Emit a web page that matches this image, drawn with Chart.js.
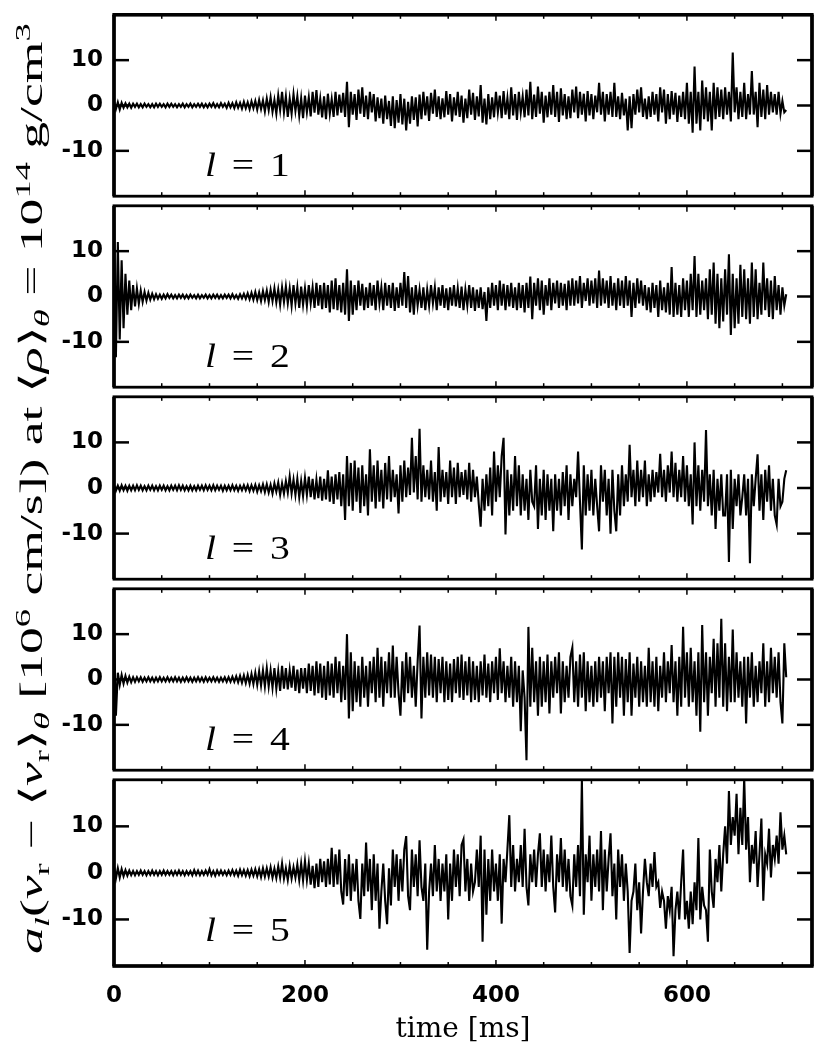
<!DOCTYPE html>
<html><head><meta charset="utf-8">
<script src="https://cdn.jsdelivr.net/npm/chart.js@4.4.1/dist/chart.umd.min.js"></script>
<style>
html,body{margin:0;padding:0;background:#fff;}
#fig{position:relative;width:830px;height:1053px;overflow:hidden;background:#fff;}
#fig canvas{position:absolute;left:0;}
.lab{position:absolute;left:205px;font-family:'Liberation Serif',serif;font-size:33px;color:#000;white-space:nowrap;line-height:1;transform-origin:0 50%;transform:translateY(-50%) scaleX(1.2);}
.lab i{font-style:italic;}
.lab .eq{margin:0 0.4em;}
#ytitle{position:absolute;left:0;top:0;transform-origin:0 0;white-space:nowrap;font-family:'Liberation Serif',serif;font-size:32px;line-height:1;color:#000;}
#ytitle sub,#ytitle sup{font-size:0.68em;line-height:0;}
#ytitle i{font-style:italic;}
</style></head>
<body><div id="fig"></div>
<script>
// ---- sampling and axes ----
const DT = 2;                       // sampling step of the read-off values, ms
const X_MIN = 0, X_MAX = 731;
const Y_MIN = -20, Y_MAX = 20;
const yTicks = [-10, 0, 10];
const xTickLabels = [0, 200, 400, 600];
const xMinorTicks = [50, 100, 150, 200, 250, 300, 350, 400, 450, 500, 550, 600, 650, 700];
const modes = [1, 2, 3, 4, 5];
const xTitle = 'time [ms]';

// ---- series values (every 2 ms from 0 to 704 ms; one row = 20 ms) ----
const l1 = [
 0.9,-0.8,0.7,-0.9,0.6,-0.5,0.5,-0.4,0.4,-0.5,
 0.4,-0.3,0.4,-0.4,0.3,-0.4,0.4,-0.3,0.3,-0.4,
 0.3,-0.4,0.4,-0.3,0.4,-0.3,0.3,-0.4,0.4,-0.3,
 0.4,-0.3,0.3,-0.4,0.3,-0.3,0.4,-0.4,0.3,-0.3,
 0.4,-0.4,0.3,-0.3,0.4,-0.3,0.4,-0.4,0.3,-0.4,
 0.4,-0.3,0.5,-0.4,0.3,-0.4,0.5,-0.3,0.4,-0.5,
 0.6,-0.4,0.5,-0.6,0.7,-0.5,0.6,-0.7,0.8,-0.6,
 0.7,-0.8,0.9,-0.6,1.0,-0.9,1.2,-0.8,1.1,-1.3,
 1.5,-1.0,1.8,-1.4,1.2,-1.8,2.2,-1.0,3.0,-1.5,
 2.0,-2.5,1.5,-1.8,2.5,-1.2,2.0,-2.2,1.6,-2.8,
 2.2,-1.5,1.8,-2.4,3.0,-1.6,3.4,-2.0,1.5,-2.6,
 2.0,-3.0,2.6,-1.8,1.4,-2.5,3.0,-2.2,2.4,-1.6,
 2.8,-2.5,5.2,-4.8,3.0,-2.0,2.5,-3.2,3.5,-1.8,
 4.0,-2.5,2.2,-3.0,3.0,-1.5,2.5,-3.5,1.8,-2.8,
 1.5,-4.0,2.2,-3.0,1.0,-4.5,2.0,-5.0,1.2,-3.8,
 2.5,-4.2,1.5,-5.5,0.8,-4.0,2.0,-3.2,1.8,-4.6,
 2.4,-3.0,3.0,-2.2,2.0,-3.4,2.8,-1.8,3.5,-2.5,
 2.0,-3.0,1.6,-2.6,3.2,-2.0,2.5,-3.5,1.8,-2.2,
 3.0,-2.5,2.2,-3.8,1.5,-2.8,3.5,-2.0,2.8,-3.2,
 2.0,-2.4,4.5,-3.8,1.5,-4.2,2.5,-3.0,1.8,-2.6,
 3.0,-1.5,2.2,-2.8,3.2,-2.0,1.6,-3.0,4.0,-2.2,
 2.5,-3.2,3.0,-1.5,2.0,-2.6,3.5,-2.2,5.2,-3.0,
 2.4,-2.5,4.2,-1.8,3.0,-3.8,2.2,-2.6,3.0,-2.0,
 4.5,-2.5,3.0,-3.6,3.8,-2.2,2.5,-3.0,2.0,-2.8,
 3.5,-1.5,4.2,-2.8,3.0,-2.0,2.6,-3.5,3.2,-2.2,
 2.5,-3.0,2.2,-1.5,5.0,-2.0,3.0,-3.5,2.5,-2.0,
 3.0,-2.5,5.0,-2.5,2.0,-3.0,2.8,-2.2,1.5,-5.5,
 2.0,-5.0,2.5,-2.0,3.5,-1.5,4.0,-2.5,1.5,-3.0,
 2.0,-2.5,3.0,-2.0,2.5,-3.5,4.0,-1.5,3.5,-4.0,
 2.5,-3.0,3.2,-2.0,2.8,-3.6,2.2,-2.5,3.0,-3.0,
 5.0,-4.0,3.0,-6.0,8.6,-4.0,3.0,-5.5,5.5,-3.0,
 4.0,-3.5,3.0,-5.5,5.0,-3.0,4.0,-2.5,3.5,-3.0,
 4.0,-2.0,3.0,-3.5,11.7,-1.5,4.0,-3.0,3.0,-2.5,
 5.0,-3.0,2.5,-2.0,7.6,-2.0,3.0,-4.8,5.0,-2.5,
 3.5,-3.0,4.5,-2.0,3.0,-1.5,2.5,-2.0,3.0,-1.8,
 1.0,-1.5,-1.0];

const l2 = [
 18.7,-13.4,12.0,-9.5,8.0,-7.0,5.0,-4.0,3.5,-3.0,
 2.5,-2.2,1.8,-1.6,1.3,-1.2,1.0,-0.9,0.8,-0.7,
 0.6,-0.6,0.5,-0.5,0.4,-0.5,0.4,-0.4,0.5,-0.3,
 0.4,-0.4,0.3,-0.4,0.4,-0.3,0.4,-0.4,0.3,-0.4,
 0.4,-0.3,0.3,-0.4,0.4,-0.4,0.3,-0.3,0.4,-0.4,
 0.3,-0.4,0.4,-0.3,0.4,-0.4,0.3,-0.4,0.4,-0.3,
 0.4,-0.4,0.5,-0.4,0.3,-0.5,0.5,-0.4,0.6,-0.5,
 0.7,-0.6,0.8,-0.7,1.0,-0.8,0.9,-1.0,1.2,-0.8,
 1.3,-1.2,1.5,-1.0,1.8,-1.3,1.5,-1.8,2.0,-1.2,
 2.2,-1.5,1.8,-2.0,2.5,-1.5,2.0,-2.5,2.2,-1.8,
 1.8,-2.0,2.5,-1.5,2.0,-2.5,3.0,-2.0,2.5,-2.8,
 3.0,-2.5,2.5,-3.5,3.5,-2.8,4.0,-3.0,2.5,-3.5,
 3.0,-4.0,6.0,-5.4,3.5,-4.0,2.5,-3.0,3.5,-2.0,
 2.8,-3.0,2.0,-2.5,3.0,-2.0,2.5,-3.0,3.5,-1.5,
 2.0,-3.0,3.0,-2.0,2.5,-2.5,3.0,-3.2,2.0,-2.5,
 3.0,-2.0,5.4,-2.5,4.5,-3.5,2.0,-4.0,2.5,-2.0,
 1.5,-2.5,2.0,-3.0,1.5,-2.0,2.5,-1.5,2.0,-3.0,
 2.0,-2.0,2.5,-2.5,1.8,-3.0,2.0,-2.0,2.5,-2.2,
 1.8,-2.5,2.2,-3.0,1.5,-2.0,2.5,-2.5,2.0,-3.2,
 1.5,-2.5,2.0,-2.8,1.0,-5.4,2.0,-2.5,3.0,-2.0,
 2.5,-3.0,3.5,-2.0,2.8,-3.0,2.5,-2.2,3.0,-2.5,
 2.0,-3.0,3.0,-2.5,2.5,-3.5,3.0,-2.5,4.4,-5.0,
 3.0,-2.0,4.0,-3.0,3.5,-4.0,2.5,-2.0,4.0,-3.0,
 3.0,-1.5,3.5,-2.5,3.0,-2.0,2.8,-3.0,3.5,-2.0,
 4.0,-2.0,3.5,-1.5,4.5,-2.5,3.0,-1.0,4.0,-2.0,
 3.5,-1.5,4.0,-2.5,5.7,-2.0,4.0,-1.5,3.5,-2.5,
 4.5,-2.0,3.0,-3.0,4.0,-2.0,3.5,-2.5,4.5,-2.0,
 3.5,-4.5,3.0,-2.5,4.0,-1.5,3.5,-2.0,2.5,-3.0,
 2.0,-3.5,3.0,-2.5,2.5,-4.5,3.5,-3.0,2.0,-3.5,
 3.0,-4.0,6.5,-4.5,3.0,-4.0,2.5,-4.5,4.0,-3.0,
 3.5,-4.5,5.0,-3.0,8.9,-4.5,5.0,-4.0,3.5,-3.0,
 4.0,-5.0,6.0,-4.0,7.5,-6.0,5.0,-7.0,4.0,-5.5,
 6.0,-4.0,9.3,-8.5,5.0,-7.0,4.0,-6.0,7.0,-4.5,
 6.0,-5.0,4.0,-6.0,7.5,-4.5,6.0,-5.0,3.0,-4.0,
 7.5,-3.0,4.0,-4.5,3.5,-5.0,4.5,-3.0,2.5,-4.0,
 2.0,-2.0,0.5];

const l3 = [
 0.7,-0.6,0.5,-0.6,0.6,-0.5,0.5,-0.6,0.5,-0.5,
 0.5,-0.5,0.6,-0.4,0.5,-0.5,0.4,-0.5,0.5,-0.4,
 0.5,-0.5,0.4,-0.5,0.5,-0.4,0.5,-0.5,0.4,-0.5,
 0.5,-0.4,0.5,-0.5,0.6,-0.4,0.5,-0.5,0.4,-0.5,
 0.5,-0.5,0.4,-0.5,0.5,-0.4,0.5,-0.5,0.6,-0.4,
 0.5,-0.5,0.6,-0.5,0.5,-0.4,0.5,-0.6,0.5,-0.5,
 0.5,-0.5,0.6,-0.5,0.5,-0.6,0.5,-0.5,0.6,-0.5,
 0.6,-0.7,0.6,-0.6,0.7,-0.8,0.6,-0.7,0.8,-0.9,
 0.8,-1.0,0.7,-1.2,1.0,-0.8,1.2,-1.5,1.0,-1.2,
 1.5,-1.0,2.5,-1.2,1.8,-1.5,2.0,-2.0,1.5,-1.8,
 2.2,-1.5,2.5,-2.0,2.0,-2.5,1.8,-2.2,2.5,-2.8,
 2.0,-2.5,3.9,-3.0,2.5,-3.5,3.0,-2.5,3.5,-4.0,
 3.0,-7.0,7.0,-4.0,5.5,-5.0,6.0,-3.0,4.5,-5.5,
 5.0,-4.0,3.0,-6.0,8.5,-3.0,5.0,-4.5,6.0,-3.0,
 4.0,-4.5,5.5,-2.5,7.0,-3.0,4.0,-2.0,3.0,-5.6,
 5.0,-3.0,6.0,-2.0,4.5,-1.5,11.0,-1.0,7.0,-2.5,
 13.0,-3.0,5.0,-2.0,4.0,-2.5,6.0,-3.0,3.5,-5.0,
 9.0,-3.0,4.0,-2.0,3.5,-3.5,6.0,-2.0,4.5,-3.5,
 5.5,-2.0,3.5,-1.5,4.0,-2.5,5.5,-3.0,4.0,-2.0,
 2.5,-3.5,-8.5,2.0,-5.0,3.0,-4.0,4.5,-6.0,8.0,
 -3.0,5.0,-2.0,7.0,11.0,-10.2,4.0,-6.0,3.0,-5.0,
 7.0,-4.0,5.0,-6.0,3.0,-5.0,2.0,-7.0,4.0,-3.0,
 -4.0,5.0,-9.0,2.0,-6.0,4.0,-7.0,3.0,-5.0,2.0,
 -9.5,3.0,-5.0,2.0,-6.0,3.5,-4.0,5.0,-7.0,3.0,
 -4.0,2.0,-2.0,8.0,-3.0,-13.5,5.0,-6.0,3.0,-5.0,
 4.0,-6.0,2.0,-4.0,-9.5,5.0,-3.0,4.0,-6.0,2.0,
 -10.0,4.0,-5.0,-9.5,3.0,-6.0,5.0,-4.0,3.0,-3.0,
 9.5,-2.0,4.0,-4.0,6.0,-3.0,4.0,-2.0,6.0,-4.0,
 3.0,-3.0,4.0,-2.0,3.5,-1.0,7.5,-2.0,4.0,-3.0,
 5.0,-1.0,8.0,-2.0,5.5,-3.0,4.0,-2.0,7.0,-3.0,
 5.0,-4.0,3.0,-8.0,10.0,-4.0,5.0,-5.0,4.0,-3.0,
 12.7,-4.0,3.0,-6.0,4.0,-9.0,2.0,-5.0,3.0,-6.0,
 -6.0,3.0,-16.2,4.0,-9.0,2.0,-4.0,3.0,-6.0,-2.0,
 3.0,-6.0,2.0,-16.5,3.0,-4.0,2.0,7.4,-5.0,3.0,
 -7.0,4.0,-3.0,5.0,-5.0,2.0,-6.0,-8.0,2.0,-4.0,
 -3.0,2.0,3.9];

const l4 = [
 11.0,-8.0,1.5,-1.2,1.0,-0.9,0.8,-0.7,0.6,-0.6,
 0.5,-0.5,0.5,-0.4,0.5,-0.5,0.4,-0.4,0.5,-0.4,
 0.4,-0.5,0.4,-0.4,0.5,-0.4,0.4,-0.4,0.5,-0.4,
 0.4,-0.4,0.5,-0.4,0.4,-0.5,0.4,-0.4,0.5,-0.4,
 0.4,-0.5,0.4,-0.4,0.5,-0.4,0.4,-0.5,0.5,-0.4,
 0.4,-0.4,0.5,-0.4,0.4,-0.5,0.4,-0.4,0.5,-0.5,
 0.5,-0.5,0.6,-0.5,0.7,-0.6,0.8,-0.7,0.9,-0.8,
 1.0,-0.9,1.2,-1.0,1.5,-1.2,1.8,-1.3,2.0,-1.5,
 2.5,-1.5,2.0,-1.8,2.5,-2.0,1.8,-2.5,3.0,-2.0,
 2.5,-2.2,2.0,-1.8,3.0,-2.5,2.2,-3.0,2.5,-2.0,
 2.5,-3.0,3.5,-2.5,3.0,-3.5,4.0,-3.0,3.5,-4.0,
 3.0,-4.5,4.0,-3.5,3.5,-4.0,5.0,-3.0,4.0,-5.0,
 3.0,-4.5,10.0,-8.6,6.0,-7.0,4.0,-5.0,3.0,-6.0,
 5.0,-4.0,3.0,-6.0,4.0,-3.0,5.0,-5.0,7.0,-4.0,
 5.0,-6.0,4.0,-3.0,6.0,-4.0,7.5,-4.0,5.0,-3.0,
 -8.0,4.0,-5.0,6.0,-3.0,5.0,-4.0,3.0,-6.0,4.0,
 11.9,-8.6,5.0,-4.0,6.0,-3.5,5.5,-4.0,5.0,-5.0,
 4.5,-3.0,5.0,-5.0,4.0,-4.5,3.5,-5.0,4.5,-3.0,
 5.0,-4.0,5.5,-4.5,4.0,-3.5,5.0,-5.0,4.0,-4.5,
 3.0,-5.0,4.0,-3.5,5.5,-4.0,3.5,-5.0,4.0,-3.0,
 5.0,-4.5,6.9,-3.0,4.0,-5.0,3.0,-4.0,5.0,-6.0,
 4.0,-5.0,3.0,-11.4,2.0,-4.0,-17.8,11.6,-6.0,7.0,
 -5.0,4.0,-8.0,5.0,-6.0,4.0,-5.0,5.5,-7.5,4.0,
 -4.0,5.0,-3.0,6.0,-7.5,4.0,-5.0,3.0,-4.0,5.0,
 7.0,-5.0,4.0,-6.0,5.5,-4.0,6.0,-7.0,4.0,-5.0,
 3.0,-6.0,4.0,-5.0,5.0,-4.0,4.0,-7.0,5.0,-3.0,
 6.0,-9.7,5.0,-6.0,6.0,-4.0,5.0,-8.0,4.5,-5.0,
 6.0,-8.0,3.5,-4.0,5.0,-6.0,4.0,-5.0,3.0,-6.0,
 7.0,-5.0,4.0,-6.0,5.0,-7.0,3.0,-4.0,6.0,-5.0,
 4.0,-3.0,7.6,-5.0,4.0,-8.0,5.0,-6.0,11.6,-4.0,
 6.0,-6.0,7.0,-5.0,4.0,-8.0,6.0,-11.5,12.0,-5.0,
 6.0,-8.0,5.0,-3.0,9.0,-6.0,8.0,-4.0,13.4,-6.0,
 8.0,-7.0,5.0,-5.0,11.0,-5.0,6.0,-4.0,4.0,-6.0,
 5.0,-9.7,5.0,-4.0,6.0,-6.0,3.0,-5.0,4.0,-3.0,
 8.0,-6.0,4.0,-5.0,7.0,-3.0,5.0,-4.0,6.0,-5.0,
 -9.7,8.0,0.5];

const l5 = [
 1.5,-1.2,1.0,-1.0,0.8,-0.7,0.6,-0.6,0.5,-0.5,
 0.4,-0.5,0.4,-0.4,0.5,-0.4,0.4,-0.5,0.4,-0.4,
 0.5,-0.4,0.4,-0.5,0.4,-0.4,0.5,-0.4,0.4,-0.4,
 0.4,-0.5,0.4,-0.4,0.5,-0.4,0.4,-0.5,0.4,-0.4,
 0.4,-0.5,0.6,-0.4,0.5,-0.5,0.4,-0.4,0.5,-0.4,
 0.8,-0.5,0.4,-0.6,0.5,-0.4,0.5,-0.4,0.4,-0.5,
 0.5,-0.4,0.6,-0.5,0.5,-0.6,0.7,-0.5,0.6,-0.6,
 0.6,-0.7,0.7,-0.6,0.8,-0.7,0.8,-0.9,1.0,-0.8,
 1.0,-0.8,1.2,-1.0,0.9,-1.1,1.4,-1.0,2.0,-1.2,
 1.0,-1.5,1.5,-1.2,1.2,-1.0,1.8,-1.5,2.0,-1.6,
 2.5,-1.5,2.0,-2.5,1.5,-3.3,2.0,-3.0,3.0,-2.0,
 2.5,-3.0,3.0,-2.5,5.4,-3.0,4.0,-2.5,5.0,-4.0,
 -6.8,3.0,-5.0,4.0,-6.0,2.0,-4.0,3.0,-6.0,-9.9,
 2.0,-5.0,6.5,-4.0,3.0,-8.0,4.0,-6.0,2.0,-12.0,
 -4.0,2.0,-6.0,-11.0,1.0,-7.0,5.0,-3.0,4.0,-6.0,
 3.0,-4.0,5.0,7.9,-5.0,-8.0,5.0,-3.0,4.0,-5.0,
 7.0,-3.0,-6.0,2.0,-16.5,-4.0,2.0,-5.0,6.0,-4.0,
 3.0,-6.0,2.0,-4.0,4.0,-10.0,2.0,-6.0,5.0,-3.0,
 4.0,-5.0,6.0,7.2,-4.0,3.0,-6.0,2.0,-4.0,-2.0,
 5.0,-3.0,8.0,-14.8,5.0,-9.0,3.0,-6.0,5.0,-4.0,
 2.0,-6.0,4.0,-10.9,3.0,-2.0,5.0,12.4,-3.0,6.0,
 -4.0,3.0,-2.0,6.0,-3.0,9.5,-3.0,-7.0,4.0,-2.0,
 5.0,-3.0,4.0,8.5,-3.0,5.0,-4.0,4.0,-2.0,8.0,
 -3.0,-8.5,4.0,-2.0,7.5,-3.0,5.0,-4.0,3.0,-5.0,
 -7.0,4.0,-3.0,6.0,-5.0,20.0,-9.0,4.0,-2.0,8.0,
 -6.0,4.0,-3.0,5.0,-4.0,9.0,-8.0,5.0,-4.0,3.0,
 8.5,-5.0,2.0,-10.0,5.0,-3.0,4.0,-6.0,2.0,-4.0,
 -17.2,-6.0,-4.0,2.0,-8.0,-2.0,-13.0,-4.0,3.0,-2.0,
 -5.0,2.0,-3.0,4.5,-3.0,-2.0,-7.5,-4.0,-6.0,-12.0,
 -5.0,-8.0,-3.0,-17.9,-8.0,-4.0,-10.0,-2.0,5.0,-10.0,
 -6.0,-12.0,-4.0,-11.0,-2.0,-8.0,7.5,-10.0,-3.0,-7.0,
 -8.0,-14.8,5.0,-4.0,-7.5,3.0,-2.0,6.0,-4.0,4.0,
 10.0,2.0,17.6,6.0,12.0,8.0,17.0,4.0,14.0,6.0,
 20.4,5.0,12.0,-2.0,6.0,2.0,9.0,-3.0,4.0,11.7,
 -6.0,4.0,2.0,9.5,-1.0,6.0,3.0,8.0,2.0,13.0,
 5.0,8.0,4.0];

const series = [l1, l2, l3, l4, l5];

// ---- layout (pixels) ----
const W = 830, H = 1053;
const PLOT_LEFT = 114, PLOT_RIGHT = 812;
const panelEdges = [10, 201, 392, 584, 775, 966];
const PAD = 20;

const fig = document.getElementById('fig');

const framePlugin = {
  id: 'frameTicks',
  afterDatasetsDraw(chart, args, opts) {
    const {ctx, chartArea: a, scales: {x, y}} = chart;
    ctx.save();
    ctx.strokeStyle = '#000';
    ctx.lineCap = 'butt';
    const seg = (x1, y1, x2, y2) => { ctx.beginPath(); ctx.moveTo(x1, y1); ctx.lineTo(x2, y2); ctx.stroke(); };
    ctx.lineWidth = 2.5;
    for (const v of yTicks) {
      const py = y.getPixelForValue(v);
      seg(a.left, py, a.left + 15, py);
      seg(a.right - 15, py, a.right, py);
    }
    ctx.lineWidth = 1.5;
    for (const t of xMinorTicks) {
      const px = x.getPixelForValue(t);
      const len = xTickLabels.includes(t) ? 6 : 4;
      seg(px, a.top, px, a.top + len);
      seg(px, a.bottom - len, px, a.bottom);
    }
    ctx.lineWidth = 2.8;
    ctx.strokeRect(a.left, a.top, a.right - a.left, a.bottom - a.top);
    ctx.lineWidth = 3.6;
    if (opts.first) seg(a.left - 1.5, a.top, a.right + 1.5, a.top);
    if (opts.last) seg(a.left - 1.5, a.bottom, a.right + 1.5, a.bottom);
    seg(a.left, a.top, a.left, a.bottom);
    seg(a.right, a.top, a.right, a.bottom);
    ctx.restore();
  }
};

series.forEach((vals, k) => {
  const pTop = panelEdges[k], pBot = panelEdges[k + 1];
  const last = k === series.length - 1;
  const cTop = pTop - PAD;
  const cH = last ? H - cTop : (pBot - pTop) + 2 * PAD;
  const cv = document.createElement('canvas');
  cv.width = W; cv.height = cH;
  cv.style.top = cTop + 'px';
  cv.style.width = W + 'px'; cv.style.height = cH + 'px';
  fig.appendChild(cv);

  const xScale = {
    type: 'linear', min: X_MIN, max: X_MAX,
    display: last,
    grid: {display: false, drawTicks: false},
    border: {display: false},
    afterBuildTicks: s => { s.ticks = xTickLabels.map(v => ({value: v})); },
    ticks: {
      color: '#000', padding: 16, maxRotation: 0, autoSkip: false,
      font: {family: 'DejaVu Sans', size: 23, weight: 'bold'}
    },
    title: {
      display: true, text: xTitle, color: '#000',
      font: {family: 'DejaVu Serif', size: 28},
      padding: {top: 0, bottom: 6}
    }
  };
  if (last) xScale.afterFit = s => { s.height = H - panelEdges[5]; };

  new Chart(cv, {
    type: 'line',
    data: {
      datasets: [{
        data: vals.map((v, i) => ({x: i * DT, y: v})),
        borderColor: '#000',
        borderWidth: 2.1,
        borderJoinStyle: 'miter',
        pointRadius: 0,
        tension: 0,
        fill: false
      }]
    },
    plugins: [framePlugin],
    options: {
      responsive: false,
      animation: false,
      devicePixelRatio: 1,
      layout: {padding: {left: 0, right: W - PLOT_RIGHT, top: PAD, bottom: last ? 0 : PAD}},
      plugins: {
        legend: {display: false},
        tooltip: {enabled: false},
        frameTicks: {first: k === 0, last: last}
      },
      scales: {
        x: xScale,
        y: {
          type: 'linear', min: Y_MIN, max: Y_MAX, position: 'left',
          grid: {display: false, drawTicks: false},
          border: {display: false},
          afterBuildTicks: s => { s.ticks = yTicks.map(v => ({value: v})); },
          afterFit: s => { s.width = PLOT_LEFT; },
          ticks: {
            color: '#000', padding: 11,
            font: {family: 'DejaVu Sans', size: 23, weight: 'bold'}
          }
        }
      }
    }
  });

  const lab = document.createElement('div');
  lab.className = 'lab';
  lab.style.top = (pBot - 36) + 'px';
  lab.innerHTML = '<i>l</i><span class="eq">=</span>' + modes[k];
  fig.appendChild(lab);
});

// y-axis title (rotated, fitted to the plot height)
const yt = document.createElement('div');
yt.id = 'ytitle';
yt.innerHTML = '<i>a<sub>l</sub></i>(<i>v</i><sub>r</sub> \u2212 \u27E8<i>v</i><sub>r</sub>\u27E9<sub><i>\u03B8</i></sub> [10<sup>6</sup> cm/s]) at \u27E8<i>\u03C1</i>\u27E9<sub><i>\u03B8</i></sub> = 10<sup>14</sup> g/cm<sup>3</sup>';
fig.appendChild(yt);
const targetLen = 930, cx = 31, cy = 489;
const w0 = yt.offsetWidth, h0 = yt.offsetHeight;
const sx = targetLen / w0;
yt.style.transform = 'translate(' + (cx - h0 / 2) + 'px,' + (cy + targetLen / 2) + 'px) rotate(-90deg) scale(' + sx.toFixed(4) + ',1)';
</script>
</body></html>
